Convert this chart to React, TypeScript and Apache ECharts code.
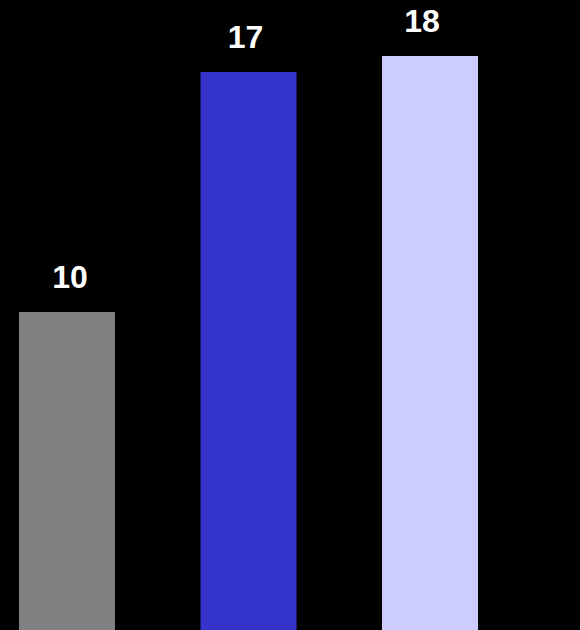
import React, { useEffect, useRef } from "react";
import * as echarts from "echarts";

const categories = ["A", "B", "C"];
const values = [10, 17.5, 18];
const colors = ["#808080", "#3333cc", "#ccccff"];
const labelShift = [3, -3, -8];

export default function App() {
  const ref = useRef<HTMLDivElement>(null);
  useEffect(() => {
    document.documentElement.style.overflow = "hidden";
    document.body.style.margin = "0";
    document.body.style.overflow = "hidden";
    document.body.style.background = "#000";
    const chart = echarts.init(ref.current!, undefined, { renderer: "svg" });
    chart.setOption({
      animation: false,
      backgroundColor: "#000",
      grid: { left: 0.25, top: 0, width: 544.5, height: 640 },
      xAxis: {
        type: "category",
        data: categories,
        show: false,
      },
      yAxis: { type: "value", min: 0, max: 20, show: false },
      series: [
        {
          type: "bar",
          barWidth: 96,
          data: values.map((v, i) => ({
            value: v,
            itemStyle: { color: colors[i] },
            label: { offset: [labelShift[i], 0] },
          })),
          label: {
            show: true,
            position: "top",
            distance: 19,
            color: "#fff",
            fontSize: 32,
            fontWeight: "bold",
            fontFamily: "Liberation Sans, Arial, sans-serif",
            formatter: (p: any) => String(Math.floor(p.value)),
          },
        },
      ],
    });
    return () => chart.dispose();
  }, []);
  return (
    <div style={{ position: "fixed", left: 0, top: 0, width: 580, height: 630, overflow: "hidden", background: "#000" }}>
      <div ref={ref} style={{ position: "absolute", left: -24, top: -8, width: 640, height: 660 }} />
    </div>
  );
}
